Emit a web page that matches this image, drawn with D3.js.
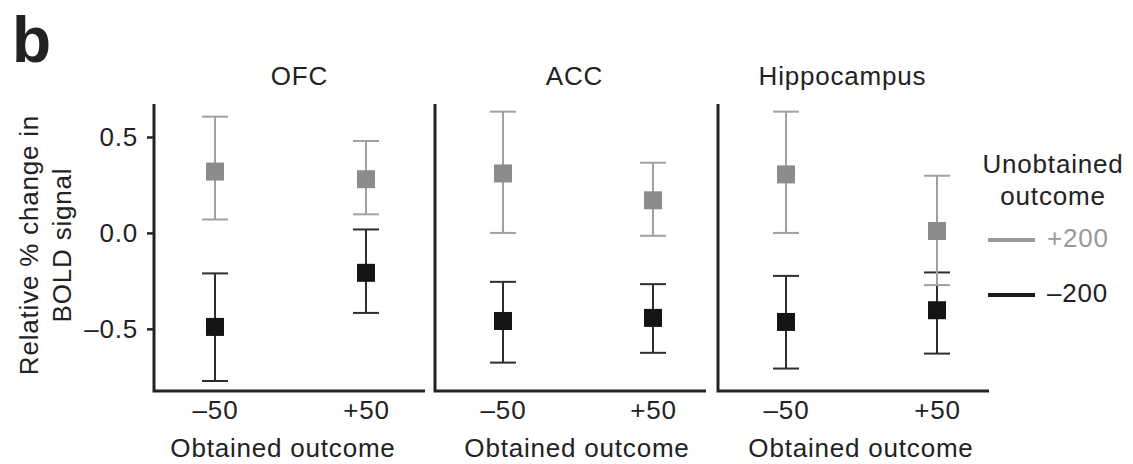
<!DOCTYPE html>
<html>
<head>
<meta charset="utf-8">
<script src="https://cdn.jsdelivr.net/npm/d3@7"></script>
<style>
  body { margin: 0; background: #fff; }
  text { font-family: "Liberation Sans", Arial, sans-serif; letter-spacing: 0.8px; }
</style>
</head>
<body>
<div id="chart"></div>
<script>
// data
const regions = ["OFC", "ACC", "Hippocampus"];
const obtained = ["\u201350", "+50"];
const yTicks = [0.5, 0.0, -0.5];
const series = ["+200", "\u2013200"];

// unobtained +200, per region: [-50, +50]
const plusMean = [[0.32, 0.28], [0.31, 0.17], [0.305, 0.01]];
const plusLow = [[0.07, 0.097], [0.0, -0.015], [0.0, -0.272]];
const plusHigh = [[0.606, 0.479], [0.632, 0.366], [0.632, 0.298]];

// unobtained -200, per region: [-50, +50]
const minusMean = [[-0.49, -0.208], [-0.459, -0.443], [-0.464, -0.403]];
const minusLow = [[-0.772, -0.417], [-0.676, -0.625], [-0.707, -0.629]];
const minusHigh = [[-0.211, 0.018], [-0.255, -0.267], [-0.224, -0.206]];

const width = 1133;
const height = 464;
const fontSize = 26;

// panel layout
const panelLeft = [154, 435, 718];
const panelWidth = 271;
const plotTop = 104;
const plotBottom = 391;
const pointRange = [[61, 212], [68, 218], [68, 219]];
const titleShift = [10, 4, -11];
const xTitleCenter = [129, 142, 143];

const colors = { "+200": "#a0a0a0", "\u2013200": "#2e2e2e" };
const markColors = { "+200": "#8c8c8c", "\u2013200": "#141414" };

const svg = d3.select("#chart").append("svg")
  .attr("width", width)
  .attr("height", height);

const y = d3.scaleLinear()
  .domain([-0.824, 0.672])
  .range([plotBottom, plotTop]);

// panel label
svg.append("text")
  .attr("x", 12)
  .attr("y", 62)
  .attr("font-size", 64)
  .attr("font-weight", "bold")
  .attr("fill", "#222")
  .style("letter-spacing", "0px")
  .text("b");

// y axis title
const yTitle = svg.append("text")
  .attr("transform", "translate(38, 245) rotate(-90)")
  .attr("text-anchor", "middle")
  .attr("font-size", fontSize)
  .attr("fill", "#222");
yTitle.append("tspan").attr("x", 0).attr("y", 0).text("Relative % change in");
yTitle.append("tspan").attr("x", 0).attr("y", 33).text("BOLD signal");

regions.forEach((region, r) => {
  const g = svg.append("g")
    .attr("transform", `translate(${panelLeft[r]}, 0)`);

  const x = d3.scalePoint()
    .domain(obtained)
    .range(pointRange[r]);

  g.append("text")
    .attr("x", panelWidth / 2 + titleShift[r])
    .attr("y", 85)
    .attr("text-anchor", "middle")
    .attr("font-size", fontSize)
    .attr("fill", "#222")
    .text(region);

  // build rows for this panel
  const rows = [];
  series.forEach((s, si) => {
    const mean = si === 0 ? plusMean : minusMean;
    const low = si === 0 ? plusLow : minusLow;
    const high = si === 0 ? plusHigh : minusHigh;
    obtained.forEach((o, oi) => {
      rows.push({ s: s, o: o, mean: mean[r][oi], low: low[r][oi], high: high[r][oi] });
    });
  });
  rows.reverse(); // draw -200 first, +200 on top

  const bars = g.selectAll(".err")
    .data(rows)
    .enter().append("g")
    .attr("class", "err");

  bars.append("line")
    .attr("x1", d => x(d.o)).attr("x2", d => x(d.o))
    .attr("y1", d => y(d.low)).attr("y2", d => y(d.high))
    .attr("stroke", d => colors[d.s])
    .attr("stroke-width", 2);

  ["low", "high"].forEach(k => {
    bars.append("line")
      .attr("x1", d => x(d.o) - 13).attr("x2", d => x(d.o) + 13)
      .attr("y1", d => y(d[k])).attr("y2", d => y(d[k]))
      .attr("stroke", d => colors[d.s])
      .attr("stroke-width", 2);
  });

  bars.append("rect")
    .attr("x", d => x(d.o) - 9)
    .attr("y", d => y(d.mean) - 9)
    .attr("width", 18)
    .attr("height", 18)
    .attr("fill", d => markColors[d.s]);

  // x axis
  const xAxis = g.append("g")
    .attr("transform", `translate(0, ${plotBottom})`)
    .call(d3.axisBottom(x).tickSize(0).tickPadding(10));
  xAxis.select(".domain").remove();
  xAxis.selectAll("text")
    .attr("font-size", fontSize)
    .attr("fill", "#222")
    .style("font-family", "Liberation Sans, Arial, sans-serif");

  g.append("text")
    .attr("x", xTitleCenter[r])
    .attr("y", 457)
    .attr("text-anchor", "middle")
    .attr("font-size", fontSize)
    .attr("fill", "#222")
    .text("Obtained outcome");

  // y axis (ticks only on first panel)
  const yAxis = g.append("g")
    .call(d3.axisLeft(y).tickValues(r === 0 ? yTicks : []).tickSize(7).tickPadding(9)
      .tickFormat(d => d3.format(".1f")(d).replace("-", "\u2013").replace("\u2212", "\u2013")));
  yAxis.select(".domain").remove();
  yAxis.selectAll(".tick line").attr("stroke", "#222").attr("stroke-width", 2.5);
  yAxis.selectAll("text")
    .attr("font-size", fontSize)
    .attr("fill", "#222")
    .style("font-family", "Liberation Sans, Arial, sans-serif");

  // axis frame lines
  g.append("path")
    .attr("d", `M0,${plotTop}V${plotBottom}H${panelWidth}`)
    .attr("fill", "none")
    .attr("stroke", "#222")
    .attr("stroke-width", 3);
});

// legend
const legend = svg.append("g").attr("transform", "translate(1053, 0)");
legend.append("text")
  .attr("x", 0).attr("y", 173)
  .attr("text-anchor", "middle")
  .attr("font-size", fontSize)
  .attr("fill", "#222")
  .text("Unobtained");
legend.append("text")
  .attr("x", 0).attr("y", 205)
  .attr("text-anchor", "middle")
  .attr("font-size", fontSize)
  .attr("fill", "#222")
  .text("outcome");

series.forEach((s, i) => {
  const ly = 240 + i * 55;
  legend.append("line")
    .attr("x1", -65).attr("x2", -18)
    .attr("y1", ly).attr("y2", ly)
    .attr("stroke", i === 0 ? "#9a9a9a" : "#1a1a1a")
    .attr("stroke-width", 4);
  legend.append("text")
    .attr("x", -6).attr("y", ly + 7)
    .attr("font-size", fontSize)
    .attr("fill", i === 0 ? "#999" : "#222")
    .text(s);
});
</script>
</body>
</html>
